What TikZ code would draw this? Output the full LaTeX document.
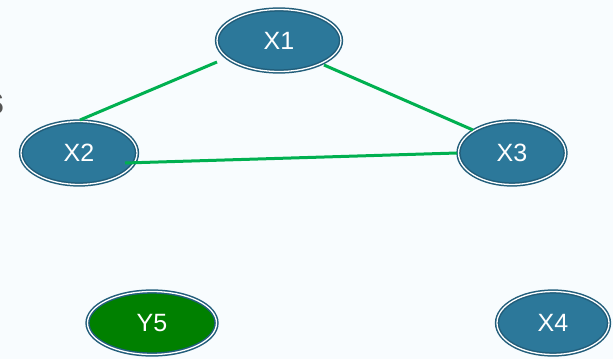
\documentclass[tikz,border=0pt]{standalone}
\usepackage{fontspec}
\setmainfont{Liberation Sans}
\usetikzlibrary{calc,shapes.geometric}
\definecolor{bg}{HTML}{F8FCFE}
\definecolor{nodefill}{HTML}{2C789A}
\definecolor{nodeedge}{HTML}{215D7A}
\definecolor{yfill}{HTML}{008000}
\definecolor{edgegreen}{HTML}{00B050}
\definecolor{fraggray}{HTML}{555555}
\tikzset{
  varnode/.style={ellipse, draw=nodeedge, double=white, double distance=1.3pt, line width=1.5pt,
    fill=nodefill, text=white, font=\fontsize{25}{28}\selectfont, inner sep=0pt},
  obsnode/.style={varnode, fill=yfill},
  link/.style={draw=edgegreen, line width=3pt},
}
\begin{document}
\begin{tikzpicture}[x=1pt,y=-1pt]
\useasboundingbox (0,0) rectangle (613,359);
\clip (0,0) rectangle (613,359);
\fill[bg] (0,0) rectangle (613,359);
\node[text=fraggray, font=\fontsize{40}{44}\selectfont\bfseries, anchor=east, inner sep=0pt] (frag) at (5,104) {s};
\node[varnode, minimum width=124pt, minimum height=62pt] (X1) at (279,40.5) {X1};
\node[varnode, minimum width=116pt, minimum height=63pt] (X2) at (79,153) {X2};
\node[varnode, minimum width=107pt, minimum height=63pt] (X3) at (512,153) {X3};
\node[obsnode, minimum width=129pt, minimum height=63pt] (Y5) at (152,323) {Y5};
\node[varnode, minimum width=112pt, minimum height=63pt] (X4) at (553,323) {X4};
\coordinate (a1) at ($(X1.center)+(-62,21.5)$);
\coordinate (a2) at ($(X2.center)+(1,-33)$);
\coordinate (b1) at ($(X1.center)+(45,24.5)$);
\coordinate (b3) at ($(X3.center)+(-39,-23)$);
\coordinate (c2) at ($(X2.center)+(46,10)$);
\coordinate (c3) at ($(X3.center)+(-55,0)$);
\draw[link] (a1) -- (a2);
\draw[link] (b1) -- (b3);
\draw[link] (c2) -- (c3);
\end{tikzpicture}
\end{document}
